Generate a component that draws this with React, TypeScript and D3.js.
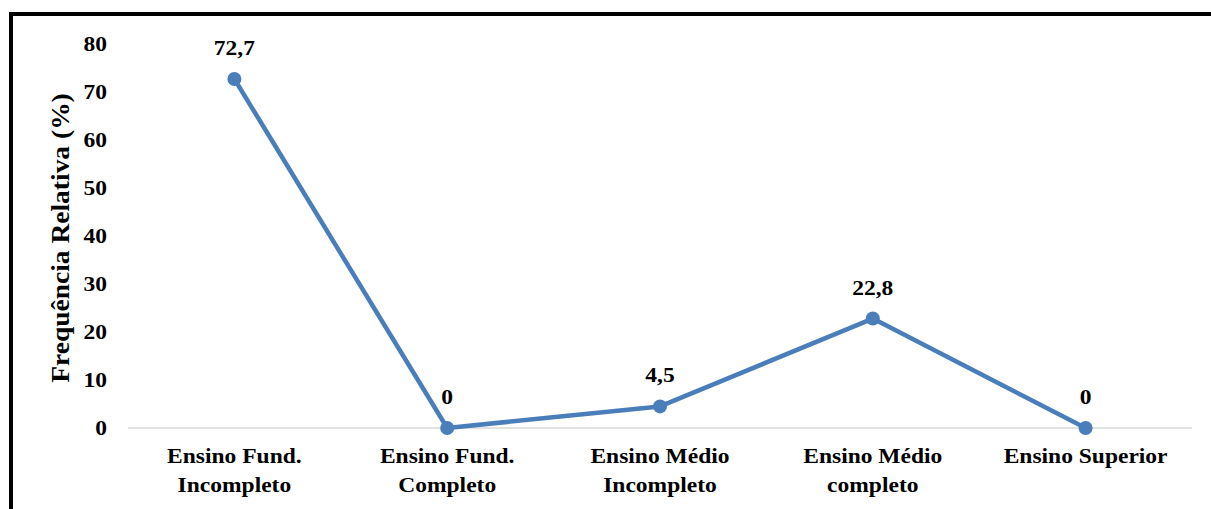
import React from "react";
import * as d3 from "d3";

const categories: string[][] = [
  ["Ensino Fund.", "Incompleto"],
  ["Ensino Fund.", "Completo"],
  ["Ensino Médio", "Incompleto"],
  ["Ensino Médio", "completo"],
  ["Ensino Superior"],
];
const values: number[] = [72.7, 0, 4.5, 22.8, 0];
const valueLabels: string[] = ["72,7", "0", "4,5", "22,8", "0"];
const yTicks: number[] = [0, 10, 20, 30, 40, 50, 60, 70, 80];
const yTitle = "Frequência Relativa (%)";

const SX = 1.12;

function T(props: { x: number; y: number; anchor?: string; size?: number; children: React.ReactNode }) {
  const { x, y, anchor = "middle", size = 21, children } = props;
  return (
    <text transform={`translate(${x},${y}) scale(${SX},1)`} textAnchor={anchor} fontSize={size}>
      {children}
    </text>
  );
}

export default function App() {
  const W = 1211, H = 509;
  const left = 128, right = 1192, top = 44, bottom = 428;
  const x = d3.scaleBand<number>().domain(values.map((_, i) => i)).range([left, right]);
  const y = d3.scaleLinear().domain([0, 80]).range([bottom, top]);
  const cx = (i: number) => (x(i) as number) + x.bandwidth() / 2;
  const line = d3.line<number>().x((_, i) => cx(i)).y((d) => y(d));
  const font = "'Liberation Serif', 'Times New Roman', serif";
  const blue = "#4a7ebb";
  return (
    <svg width={W} height={H} style={{ position: "absolute", left: 0, top: 0 }} fontFamily={font} fontWeight="bold" fill="#000">
      <rect x={0} y={0} width={W} height={H} fill="#fff" />
      <rect x={11} y={14} width={W + 20} height={H + 20} fill="none" stroke="#000" strokeWidth={4} />
      <line x1={left} x2={right} y1={y(0)} y2={y(0)} stroke="#d9d9d9" strokeWidth={1.5} />
      {yTicks.map((t) => (
        <T key={t} x={107} y={y(t) + 7} anchor="end">{t}</T>
      ))}
      <text transform={`translate(69,238) rotate(-90) scale(1.1,1)`} textAnchor="middle" fontSize={25}>{yTitle}</text>
      <path d={line(values) || ""} fill="none" stroke={blue} strokeWidth={4.5} strokeLinejoin="round" />
      {values.map((v, i) => (
        <circle key={i} cx={cx(i)} cy={y(v)} r={7} fill={blue} />
      ))}
      {values.map((v, i) => (
        <T key={i} x={cx(i)} y={y(v) - 24}>{valueLabels[i]}</T>
      ))}
      {categories.map((lines, i) => (
        <g key={i}>
          {lines.map((l, j) => (
            <T key={j} x={cx(i)} y={463 + j * 29}>{l}</T>
          ))}
        </g>
      ))}
    </svg>
  );
}
